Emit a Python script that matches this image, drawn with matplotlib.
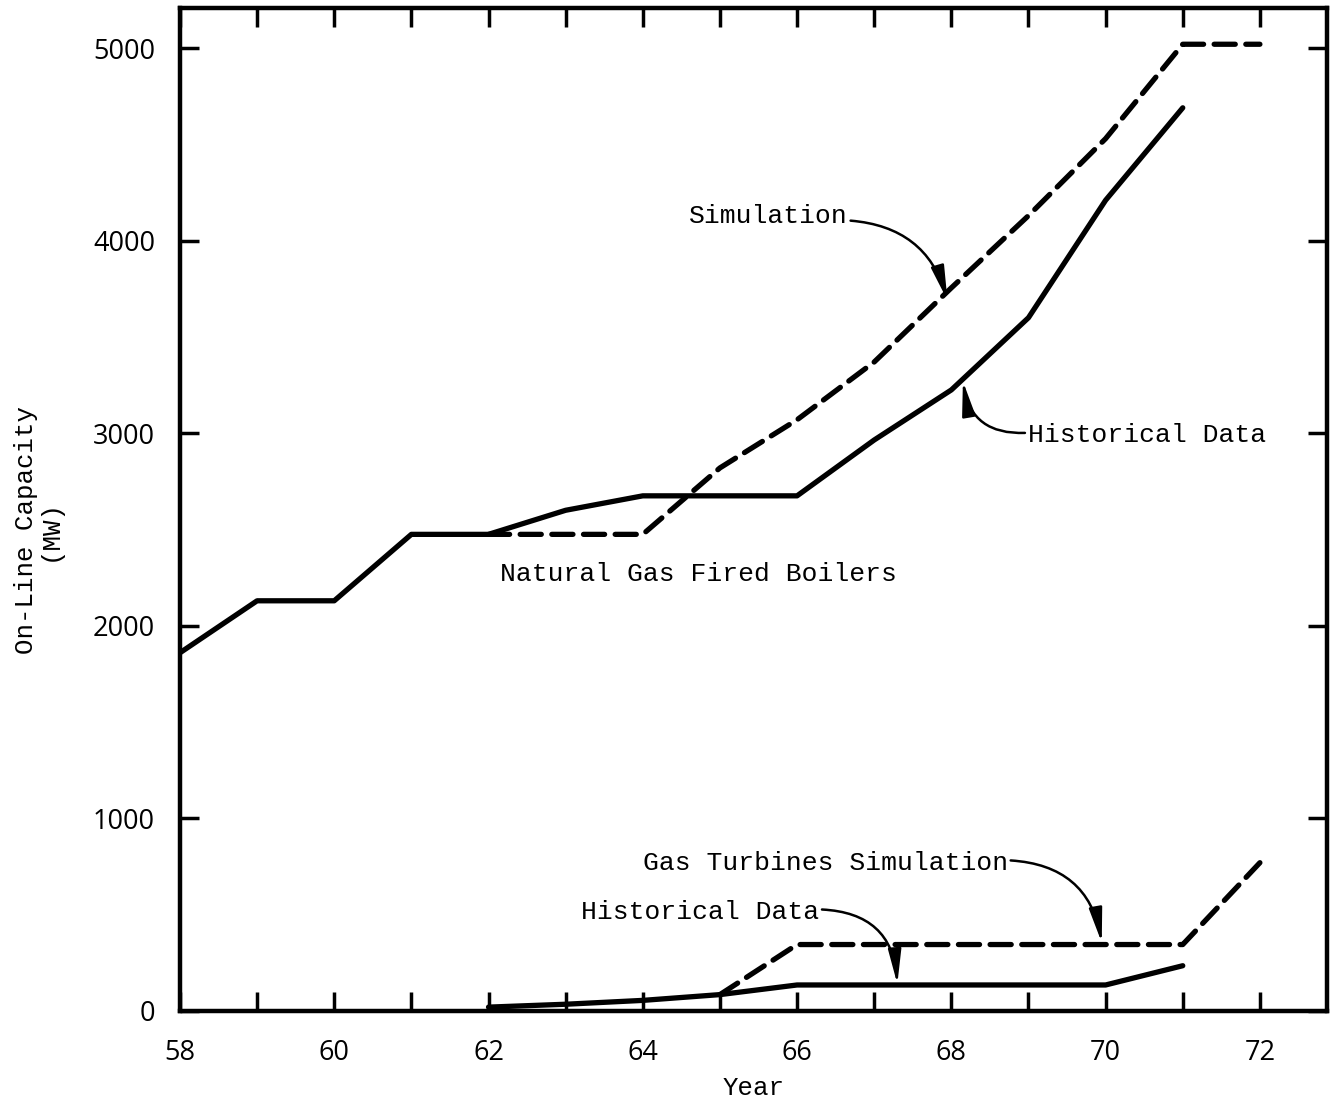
import matplotlib.pyplot as plt

# Natural gas fired boilers
ng_hist_years = [58, 59, 60, 61, 62, 63, 64, 65, 66, 67, 68, 69, 70, 71]
ng_hist_mw = [1860, 2130, 2130, 2475, 2475, 2600, 2675, 2675, 2675, 2965, 3225, 3600, 4210, 4690]
ng_sim_years = [62, 63, 64, 65, 66, 67, 68, 69, 70, 71, 72]
ng_sim_mw = [2475, 2475, 2475, 2820, 3070, 3370, 3755, 4130, 4530, 5020, 5020]

# Gas turbines
gt_hist_years = [62, 63, 64, 65, 66, 67, 68, 69, 70, 71]
gt_hist_mw = [20, 35, 55, 85, 135, 135, 135, 135, 135, 235]
gt_sim_years = [65, 66, 67, 68, 69, 70, 71, 72]
gt_sim_mw = [85, 345, 345, 345, 345, 345, 345, 770]

xticks = [58, 60, 62, 64, 66, 68, 70, 72]
yticks = [0, 1000, 2000, 3000, 4000, 5000]

mono = 'Liberation Mono'

fig = plt.figure(figsize=(13.31, 11.02), dpi=100)
ax = fig.add_axes([0.1352, 0.0826, 0.8618, 0.9101])

lw = 3.8
ax.plot(ng_hist_years, ng_hist_mw, color='black', lw=lw, solid_capstyle='round', zorder=3)
ax.plot(ng_sim_years, ng_sim_mw, color='black', lw=lw, dashes=(4, 2), dash_capstyle='round', zorder=3)
ax.plot(gt_hist_years, gt_hist_mw, color='black', lw=lw, solid_capstyle='round', zorder=3)
ax.plot(gt_sim_years, gt_sim_mw, color='black', lw=lw, dashes=(4, 2), dash_capstyle='round', zorder=3)

ax.set_xlim(58, 72.87)
ax.set_ylim(0, 5208)

ax.set_xticks(xticks)
ax.set_xticks(range(58, 73), minor=True)
ax.set_yticks(yticks)
ax.tick_params(axis='both', which='both', direction='in', width=2.5, top=True, right=True)
ax.tick_params(axis='x', which='both', length=14, pad=20)
ax.tick_params(axis='y', which='major', length=14, pad=18)
for lab in ax.get_xticklabels() + ax.get_yticklabels():
    lab.set_fontsize(19.5)
    lab.set_family('Open Sans')

for s in ax.spines.values():
    s.set_linewidth(3.2)

ax.set_xlabel('Year', fontsize=18.5, family=mono, labelpad=7)
ax.set_ylabel('On-Line Capacity\n(MW)', fontsize=18.5, family=mono, linespacing=1.0)
ax.yaxis.set_label_coords(-0.103, 0.48)

arrow = dict(arrowstyle='-|>,head_length=1.1,head_width=0.21', color='black', lw=1.8,
             shrinkA=0, shrinkB=0)

ax.annotate('Simulation', xy=(67.95, 3690), xytext=(64.6, 4130), fontsize=19, family=mono,
            va='center', ha='left',
            arrowprops=dict(arrow, connectionstyle='arc3,rad=-0.35', relpos=(1, 0.3)))
ax.annotate('Historical Data', xy=(68.15, 3270), xytext=(68.99, 2990), fontsize=19, family=mono,
            va='center', ha='left',
            arrowprops=dict(arrow, connectionstyle='arc3,rad=-0.45', relpos=(0, 0.6)))
ax.text(62.15, 2270, 'Natural Gas Fired Boilers', fontsize=19, family=mono, va='center', ha='left')
ax.annotate('Gas Turbines Simulation', xy=(69.95, 355), xytext=(64.0, 770), fontsize=19, family=mono,
            va='center', ha='left',
            arrowprops=dict(arrow, connectionstyle='arc3,rad=-0.4', relpos=(1, 0.6)))
ax.annotate('Historical Data', xy=(67.3, 140), xytext=(63.2, 515), fontsize=19, family=mono,
            va='center', ha='left',
            arrowprops=dict(arrow, connectionstyle='arc3,rad=-0.45', relpos=(1, 0.6)))

fig.savefig('out.png', dpi=100)
